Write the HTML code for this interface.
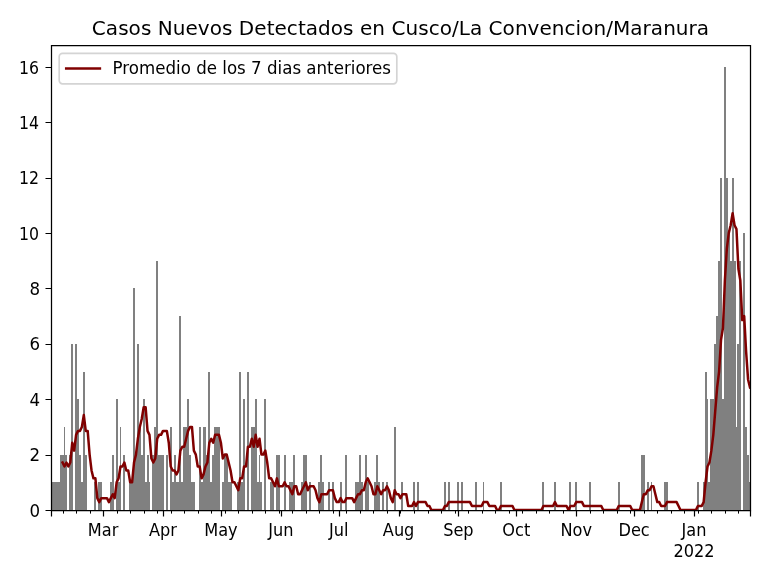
<!DOCTYPE html><html><head><meta charset="utf-8"><title>Casos Nuevos</title>
<style>html,body{margin:0;padding:0;background:#fff}svg{display:block}text{font-family:"DejaVu Sans","Liberation Sans",sans-serif;fill:#000}</style></head><body>
<svg width="768" height="576" viewBox="0 0 768 576">
<rect width="768" height="576" fill="#fff"/>
<clipPath id="c"><rect x="50.99" y="44.80" width="699.00" height="465.20"/></clipPath>
<g clip-path="url(#c)">
<path d="M50 510V399H52V510ZM52 510V482H54V510ZM54 510V482H56V510ZM56 510V482H58V510ZM58 510V482H60V510ZM60 510V455H62V510ZM62 510V455H64V510ZM64 510V427H65V510ZM65 510V455H67V510ZM69 510V455H71V510ZM71 510V344H73V510ZM75 510V344H77V510ZM77 510V399H79V510ZM79 510V455H81V510ZM81 510V482H83V510ZM83 510V372H85V510ZM85 510V455H87V510ZM94 510V482H96V510ZM98 510V482H100V510ZM100 510V482H102V510ZM110 510V482H112V510ZM112 510V455H114V510ZM116 510V399H118V510ZM118 510V482H120V510ZM120 510V427H121V510ZM123 510V455H125V510ZM129 510V482H131V510ZM131 510V482H133V510ZM133 510V288H135V510ZM135 510V455H137V510ZM137 510V344H139V510ZM139 510V427H141V510ZM141 510V455H143V510ZM143 510V399H145V510ZM145 510V482H147V510ZM147 510V455H149V510ZM149 510V482H150V510ZM152 510V455H154V510ZM154 510V427H156V510ZM156 510V261H158V510ZM158 510V455H160V510ZM160 510V455H162V510ZM162 510V455H164V510ZM166 510V455H168V510ZM170 510V427H172V510ZM172 510V482H174V510ZM174 510V455H176V510ZM176 510V482H177V510ZM177 510V482H179V510ZM179 510V316H181V510ZM181 510V482H183V510ZM183 510V427H185V510ZM185 510V427H187V510ZM187 510V399H189V510ZM189 510V455H191V510ZM191 510V482H193V510ZM193 510V482H195V510ZM199 510V427H201V510ZM201 510V482H203V510ZM203 510V427H204V510ZM204 510V427H206V510ZM206 510V455H208V510ZM208 510V372H210V510ZM210 510V482H212V510ZM212 510V455H214V510ZM214 510V427H216V510ZM216 510V427H218V510ZM218 510V427H220V510ZM222 510V482H224V510ZM224 510V455H226V510ZM226 510V455H228V510ZM228 510V482H230V510ZM230 510V482H232V510ZM237 510V482H239V510ZM239 510V372H241V510ZM241 510V482H243V510ZM243 510V399H245V510ZM247 510V372H249V510ZM251 510V427H253V510ZM253 510V427H255V510ZM255 510V399H257V510ZM257 510V482H259V510ZM259 510V455H260V510ZM260 510V482H262V510ZM264 510V399H266V510ZM270 510V482H272V510ZM272 510V482H274V510ZM276 510V455H278V510ZM278 510V455H280V510ZM284 510V455H286V510ZM289 510V482H291V510ZM291 510V482H293V510ZM293 510V455H295V510ZM301 510V482H303V510ZM303 510V455H305V510ZM305 510V455H307V510ZM309 510V482H311V510ZM318 510V482H320V510ZM320 510V455H322V510ZM322 510V482H324V510ZM328 510V482H330V510ZM332 510V482H334V510ZM340 510V482H342V510ZM345 510V455H347V510ZM355 510V482H357V510ZM357 510V482H359V510ZM359 510V455H361V510ZM361 510V482H363V510ZM365 510V455H367V510ZM367 510V482H369V510ZM374 510V482H376V510ZM376 510V455H378V510ZM378 510V482H380V510ZM382 510V482H384V510ZM386 510V482H388V510ZM394 510V427H396V510ZM401 510V482H403V510ZM413 510V482H415V510ZM417 510V482H419V510ZM444 510V482H446V510ZM448 510V482H450V510ZM457 510V482H459V510ZM461 510V482H463V510ZM475 510V482H477V510ZM483 510V482H484V510ZM500 510V482H502V510ZM542 510V482H544V510ZM554 510V482H556V510ZM569 510V482H571V510ZM575 510V482H577V510ZM589 510V482H591V510ZM618 510V482H620V510ZM641 510V455H643V510ZM643 510V455H645V510ZM647 510V482H649V510ZM651 510V482H652V510ZM664 510V482H666V510ZM666 510V482H668V510ZM697 510V482H699V510ZM703 510V482H705V510ZM705 510V372H707V510ZM707 510V399H708V510ZM708 510V482H710V510ZM710 510V399H712V510ZM712 510V399H714V510ZM714 510V344H716V510ZM716 510V316H718V510ZM718 510V261H720V510ZM720 510V178H722V510ZM722 510V399H724V510ZM724 510V67H726V510ZM726 510V178H728V510ZM728 510V233H730V510ZM730 510V261H732V510ZM732 510V178H734V510ZM734 510V261H736V510ZM736 510V427H737V510ZM737 510V344H739V510ZM739 510V261H741V510ZM743 510V233H745V510ZM745 510V427H747V510ZM747 510V455H749V510ZM749 510V482H751V510Z" fill="#808080" shape-rendering="crispEdges"/>
<polyline points="62.58,462.53 64.51,466.49 66.44,462.53 68.37,466.49 70.30,462.53 72.23,442.75 74.16,450.66 76.09,434.84 78.02,430.88 79.95,430.88 81.88,426.93 83.82,415.06 85.75,430.88 87.68,430.88 89.61,454.62 91.54,470.44 93.47,478.35 95.40,478.35 97.33,498.13 99.26,502.09 101.19,498.13 103.13,498.13 105.06,498.13 106.99,498.13 108.92,502.09 110.85,498.13 112.78,494.18 114.71,498.13 116.64,482.31 118.57,478.35 120.50,466.49 122.43,466.49 124.37,462.53 126.30,470.44 128.23,470.44 130.16,482.31 132.09,482.31 134.02,462.53 135.95,454.62 137.88,438.80 139.81,426.93 141.74,419.02 143.67,407.15 145.61,407.15 147.54,430.88 149.47,434.84 151.40,458.57 153.33,462.53 155.26,458.57 157.19,438.80 159.12,434.84 161.05,434.84 162.98,430.88 164.91,430.88 166.85,430.88 168.78,442.75 170.71,466.49 172.64,470.44 174.57,470.44 176.50,474.40 178.43,470.44 180.36,450.66 182.29,446.71 184.22,446.71 186.16,438.80 188.09,430.88 190.02,426.93 191.95,426.93 193.88,450.66 195.81,454.62 197.74,466.49 199.67,466.49 201.60,478.35 203.53,474.40 205.46,466.49 207.40,462.53 209.33,442.75 211.26,438.80 213.19,442.75 215.12,434.84 217.05,434.84 218.98,434.84 220.91,442.75 222.84,458.57 224.77,454.62 226.70,454.62 228.64,462.53 230.57,470.44 232.50,482.31 234.43,482.31 236.36,486.27 238.29,490.22 240.22,478.35 242.15,478.35 244.08,466.49 246.01,466.49 247.94,446.71 249.88,446.71 251.81,438.80 253.74,446.71 255.67,434.84 257.60,446.71 259.53,438.80 261.46,454.62 263.39,454.62 265.32,450.66 267.25,462.53 269.19,478.35 271.12,478.35 273.05,482.31 274.98,486.27 276.91,478.35 278.84,486.27 280.77,486.27 282.70,486.27 284.63,482.31 286.56,486.27 288.49,486.27 290.43,490.22 292.36,494.18 294.29,486.27 296.22,486.27 298.15,494.18 300.08,494.18 302.01,490.22 303.94,486.27 305.87,482.31 307.80,490.22 309.73,486.27 311.67,486.27 313.60,486.27 315.53,490.22 317.46,498.13 319.39,502.09 321.32,494.18 323.25,494.18 325.18,494.18 327.11,494.18 329.04,490.22 330.97,490.22 332.91,490.22 334.84,498.13 336.77,502.09 338.70,502.09 340.63,498.13 342.56,502.09 344.49,502.09 346.42,498.13 348.35,498.13 350.28,498.13 352.22,498.13 354.15,502.09 356.08,498.13 358.01,494.18 359.94,494.18 361.87,490.22 363.80,490.22 365.73,482.31 367.66,478.35 369.59,482.31 371.52,486.27 373.46,494.18 375.39,494.18 377.32,486.27 379.25,490.22 381.18,494.18 383.11,490.22 385.04,490.22 386.97,486.27 388.90,490.22 390.83,498.13 392.76,502.09 394.70,490.22 396.63,494.18 398.56,494.18 400.49,498.13 402.42,494.18 404.35,494.18 406.28,494.18 408.21,506.04 410.14,506.04 412.07,506.04 414.00,502.09 415.94,506.04 417.87,502.09 419.80,502.09 421.73,502.09 423.66,502.09 425.59,502.09 427.52,506.04 429.45,506.04 431.38,510.00 433.31,510.00 435.25,510.00 437.18,510.00 439.11,510.00 441.04,510.00 442.97,510.00 444.90,506.04 446.83,506.04 448.76,502.09 450.69,502.09 452.62,502.09 454.55,502.09 456.49,502.09 458.42,502.09 460.35,502.09 462.28,502.09 464.21,502.09 466.14,502.09 468.07,502.09 470.00,502.09 471.93,506.04 473.86,506.04 475.79,506.04 477.73,506.04 479.66,506.04 481.59,506.04 483.52,502.09 485.45,502.09 487.38,502.09 489.31,506.04 491.24,506.04 493.17,506.04 495.10,506.04 497.03,510.00 498.97,510.00 500.90,506.04 502.83,506.04 504.76,506.04 506.69,506.04 508.62,506.04 510.55,506.04 512.48,506.04 514.41,510.00 516.34,510.00 518.28,510.00 520.21,510.00 522.14,510.00 524.07,510.00 526.00,510.00 527.93,510.00 529.86,510.00 531.79,510.00 533.72,510.00 535.65,510.00 537.58,510.00 539.52,510.00 541.45,510.00 543.38,506.04 545.31,506.04 547.24,506.04 549.17,506.04 551.10,506.04 553.03,506.04 554.96,502.09 556.89,506.04 558.82,506.04 560.76,506.04 562.69,506.04 564.62,506.04 566.55,506.04 568.48,510.00 570.41,506.04 572.34,506.04 574.27,506.04 576.20,502.09 578.13,502.09 580.06,502.09 582.00,502.09 583.93,506.04 585.86,506.04 587.79,506.04 589.72,506.04 591.65,506.04 593.58,506.04 595.51,506.04 597.44,506.04 599.37,506.04 601.31,506.04 603.24,510.00 605.17,510.00 607.10,510.00 609.03,510.00 610.96,510.00 612.89,510.00 614.82,510.00 616.75,510.00 618.68,506.04 620.61,506.04 622.55,506.04 624.48,506.04 626.41,506.04 628.34,506.04 630.27,506.04 632.20,510.00 634.13,510.00 636.06,510.00 637.99,510.00 639.92,510.00 641.85,502.09 643.79,494.18 645.72,494.18 647.65,490.22 649.58,490.22 651.51,486.27 653.44,486.27 655.37,494.18 657.30,502.09 659.23,502.09 661.16,506.04 663.09,506.04 665.03,506.04 666.96,502.09 668.89,502.09 670.82,502.09 672.75,502.09 674.68,502.09 676.61,502.09 678.54,506.04 680.47,510.00 682.40,510.00 684.34,510.00 686.27,510.00 688.20,510.00 690.13,510.00 692.06,510.00 693.99,510.00 695.92,510.00 697.85,506.04 699.78,506.04 701.71,506.04 703.64,502.09 705.58,482.31 707.51,466.49 709.44,462.53 711.37,450.66 713.30,434.84 715.23,411.11 717.16,387.37 719.09,371.55 721.02,339.90 722.95,328.03 724.88,280.56 726.82,248.92 728.75,233.10 730.68,225.18 732.61,213.32 734.54,225.18 736.47,229.14 738.40,268.70 740.33,280.56 742.26,320.12 744.19,316.17 746.12,351.77 748.06,379.46 749.99,387.37" fill="none" stroke="#800000" stroke-width="2.5" stroke-linejoin="round" stroke-linecap="square"/>
</g>
<path d="M63.5 510.50v3.1M76.5 510.50v3.1M90.5 510.50v3.1M117.5 510.50v3.1M130.5 510.50v3.1M144.5 510.50v3.1M157.5 510.50v3.1M171.5 510.50v3.1M184.5 510.50v3.1M198.5 510.50v3.1M211.5 510.50v3.1M225.5 510.50v3.1M238.5 510.50v3.1M252.5 510.50v3.1M265.5 510.50v3.1M279.5 510.50v3.1M292.5 510.50v3.1M306.5 510.50v3.1M319.5 510.50v3.1M333.5 510.50v3.1M346.5 510.50v3.1M360.5 510.50v3.1M373.5 510.50v3.1M387.5 510.50v3.1M400.5 510.50v3.1M414.5 510.50v3.1M428.5 510.50v3.1M441.5 510.50v3.1M455.5 510.50v3.1M468.5 510.50v3.1M482.5 510.50v3.1M495.5 510.50v3.1M509.5 510.50v3.1M522.5 510.50v3.1M536.5 510.50v3.1M549.5 510.50v3.1M563.5 510.50v3.1M590.5 510.50v3.1M603.5 510.50v3.1M617.5 510.50v3.1M630.5 510.50v3.1M644.5 510.50v3.1M657.5 510.50v3.1M671.5 510.50v3.1M684.5 510.50v3.1M698.5 510.50v3.1M711.5 510.50v3.1M725.5 510.50v3.1M738.5 510.50v3.1" stroke="#000" stroke-width="1" fill="none"/>
<path d="M51.5 510.50v6M750.5 510.50v6M103.5 510.50v6M163.5 510.50v6M221.5 510.50v6M281.5 510.50v6M339.5 510.50v6M399.5 510.50v6M458.5 510.50v6M516.5 510.50v6M576.5 510.50v6M634.5 510.50v6M694.5 510.50v6M51.50 510.5h-6M51.50 455.5h-6M51.50 399.5h-6M51.50 344.5h-6M51.50 288.5h-6M51.50 233.5h-6M51.50 178.5h-6M51.50 122.5h-6M51.50 67.5h-6" stroke="#000" stroke-width="1.2" fill="none"/>
<path d="M51.5 510.5V45.5H750.5V510.5Z" stroke="#000" stroke-width="1.25" fill="none"/>
<text transform="translate(40.0,516.9) scale(1,1.08)" font-size="16.67" text-anchor="end">0</text>
<text transform="translate(40.0,460.9) scale(1,1.08)" font-size="16.67" text-anchor="end">2</text>
<text transform="translate(40.0,405.9) scale(1,1.08)" font-size="16.67" text-anchor="end">4</text>
<text transform="translate(40.0,349.9) scale(1,1.08)" font-size="16.67" text-anchor="end">6</text>
<text transform="translate(40.0,294.9) scale(1,1.08)" font-size="16.67" text-anchor="end">8</text>
<text transform="translate(39.1,239.9) scale(0.945,1.08)" font-size="16.67" text-anchor="end">10</text>
<text transform="translate(39.1,183.9) scale(0.945,1.08)" font-size="16.67" text-anchor="end">12</text>
<text transform="translate(39.1,128.9) scale(0.945,1.08)" font-size="16.67" text-anchor="end">14</text>
<text transform="translate(39.1,73.9) scale(0.945,1.08)" font-size="16.67" text-anchor="end">16</text>
<text transform="translate(103.1,536.0) scale(0.97,1.08)" font-size="16.67" text-anchor="middle">Mar</text>
<text transform="translate(163.0,536.0) scale(0.97,1.08)" font-size="16.67" text-anchor="middle">Apr</text>
<text transform="translate(220.9,536.0) scale(0.97,1.08)" font-size="16.67" text-anchor="middle">May</text>
<text transform="translate(280.8,536.0) scale(0.97,1.08)" font-size="16.67" text-anchor="middle">Jun</text>
<text transform="translate(338.7,536.0) scale(0.97,1.08)" font-size="16.67" text-anchor="middle">Jul</text>
<text transform="translate(398.6,536.0) scale(0.97,1.08)" font-size="16.67" text-anchor="middle">Aug</text>
<text transform="translate(458.4,536.0) scale(0.97,1.08)" font-size="16.67" text-anchor="middle">Sep</text>
<text transform="translate(516.3,536.0) scale(0.97,1.08)" font-size="16.67" text-anchor="middle">Oct</text>
<text transform="translate(576.2,536.0) scale(0.97,1.08)" font-size="16.67" text-anchor="middle">Nov</text>
<text transform="translate(634.1,536.0) scale(0.97,1.08)" font-size="16.67" text-anchor="middle">Dec</text>
<text transform="translate(694.0,536.0) scale(0.97,1.08)" font-size="16.67" text-anchor="middle">Jan</text>
<text transform="translate(694.0,556.8) scale(0.97,1.08)" font-size="16.67" text-anchor="middle">2022</text>
<text x="400.5" y="35.0" font-size="20" letter-spacing="0.043" text-anchor="middle">Casos Nuevos Detectados en Cusco/La Convencion/Maranura</text>
<rect x="59.2" y="53.3" width="337.6" height="30.5" rx="3.3" ry="3.3" fill="#fff" fill-opacity="0.8" stroke="#d4d4d4" stroke-width="1.67"/>
<path d="M66.2 68.5H99.9" stroke="#800000" stroke-width="2.5" stroke-linecap="square"/>
<text transform="translate(112.6,74.3) scale(1,1.09)" font-size="16.67">Promedio de los 7 dias anteriores</text>
</svg></body></html>
